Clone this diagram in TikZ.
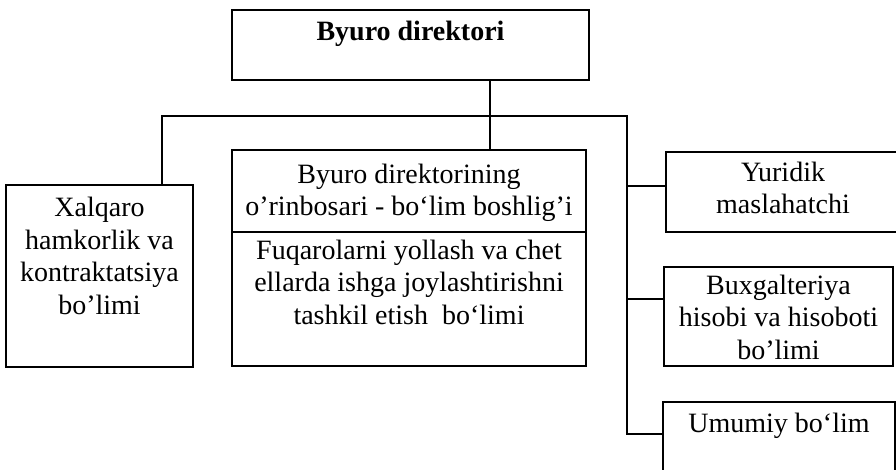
\documentclass[tikz,border=0pt]{standalone}
\usepackage{fontspec}
\setmainfont{Liberation Serif}
\begin{document}
\begin{tikzpicture}[x=1pt,y=-1pt,
  box/.style={draw, line width=1.3pt, rectangle, inner sep=0pt},
  txt/.style={font=\fontsize{28}{32.5}\selectfont, align=center, inner sep=0pt, anchor=center},
  conn/.style={line width=1.3pt}]
\useasboundingbox (0,0) rectangle (896,469);
\clip (0,0) rectangle (896,469);
% boxes
\node[box, minimum width=357pt, minimum height=70pt] (dir) at (410.5,45) {};
\node[box, minimum width=187pt, minimum height=182pt] (xal) at (99.5,276) {};
\node[box, minimum width=354pt, minimum height=216pt] (mid) at (409,258) {};
\node[box, minimum width=234pt, minimum height=80pt] (yur) at (783,192) {};
\node[box, minimum width=229pt, minimum height=99pt] (bux) at (778.5,316.5) {};
\node[box, minimum width=232pt, minimum height=90pt] (umu) at (779,447) {};
\draw[conn] (mid.west |- 0,232) -- (mid.east |- 0,232);
% texts
\node[txt, font=\fontsize{28}{32}\selectfont\bfseries] (tdir) at (410.5,34) {Byuro direktori};
\node[txt] (txal) at (99.5,256) {Xalqaro\\hamkorlik va\\kontraktatsiya\\bo’limi};
\node[txt] (tmid1) at (409,193) {Byuro direktorining\\o’rinbosari - bo‘lim boshlig’i};
\node[txt] (tmid2) at (409,282) {Fuqarolarni yollash va chet\\ellarda ishga joylashtirishni\\tashkil etish\ \ bo‘limi};
\node[txt] (tyur) at (783,188) {Yuridik\\maslahatchi};
\node[txt] (tbux) at (778.5,317) {Buxgalteriya\\hisobi va hisoboti\\bo’limi};
\node[txt] (tumu) at (779,426) {Umumiy bo‘lim};
% connectors
\coordinate (jm) at (490,116);
\coordinate (jl) at (162,116);
\coordinate (jr) at (627,116);
\coordinate (jb) at (627,434);
\draw[conn] (jm |- dir.south) -- (jm |- mid.north);
\draw[conn] (jl |- xal.north) -- (jl) -- (jr) -- (jb) -- (umu.west |- jb);
\draw[conn] (jr |- 0,186) -- (yur.west |- 0,186);
\draw[conn] (jr |- 0,299) -- (bux.west |- 0,299);
\end{tikzpicture}
\end{document}
